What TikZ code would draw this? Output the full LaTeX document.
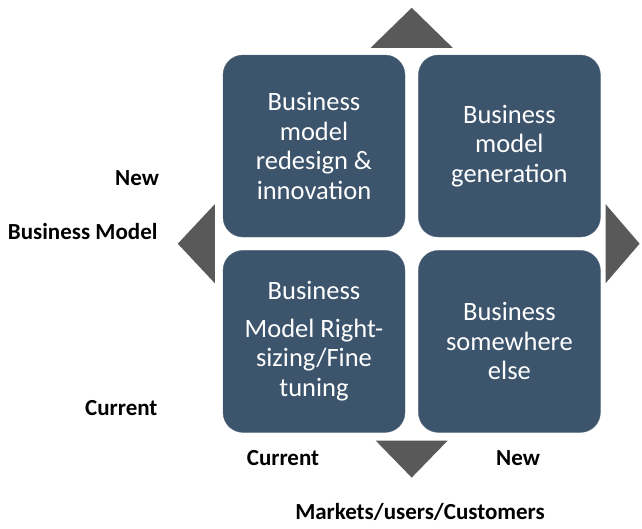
\documentclass[tikz,border=0pt]{standalone}
\usepackage{fontspec}
\setmainfont{Carlito}
\usetikzlibrary{positioning}
\usetikzlibrary{calc}
\definecolor{boxblue}{RGB}{60,84,108}
\definecolor{pointergray}{RGB}{89,89,89}

\begin{document}
\begin{tikzpicture}[x=1pt,y=-1pt,
    quad/.style={draw=boxblue!85!white, fill=boxblue, rounded corners=20pt,
        minimum width=182pt, minimum height=182pt, inner sep=0pt,
        text=white, align=center, font=\fontsize{26.5}{29.5}\selectfont},
    axis label/.style={font=\fontsize{23}{27}\selectfont\bfseries},
    pointer/.style={fill=pointergray}]
    \useasboundingbox (0,0) rectangle (642,528);
    % the four quadrants
    \node [quad] (redesign) at (314,146) {Business\\model\\redesign \&\\innovation};
    \node [quad, right=13pt of redesign] (generation) {Business\\model\\generation};
    \node [quad, below=13pt of redesign] (finetune) {Business\\[8pt]Model Right-\\sizing/Fine\\tuning};
    \node [quad, below=13pt of generation] (elsewhere) {Business\\somewhere\\else};
    \coordinate (middle) at ($(redesign.south east)!0.5!(elsewhere.north west)$);
    % pointers
    \fill [pointer] ($(middle |- redesign.north)+(-41,-7)$) -- ++(82,0)
        -- ($(middle |- redesign.north)+(0,-47)$) -- cycle;
    \fill [pointer] ($(middle |- finetune.south)+(-36,8)$) -- ++(72,0)
        -- ($(middle |- finetune.south)+(0,45)$) -- cycle;
    \fill [pointer] ($(middle -| redesign.west)+(-8,-39.5)$) -- ++(0,79)
        -- ($(middle -| redesign.west)+(-45,0)$) -- cycle;
    \fill [pointer] ($(middle -| generation.east)+(5,-39.5)$) -- ++(0,79)
        -- ($(middle -| generation.east)+(39,0)$) -- cycle;
    % axis labels
    \node [axis label] (modelnew) at (137,178) {New};
    \node [axis label, anchor=east] (modelname) at (161,232) {Business Model};
    \node [axis label, anchor=east] (modelcurrent) at (161,408) {Current};
    \node [axis label] (marketcurrent) at (283,458) {Current};
    \node [axis label] (marketnew) at (518,458) {New};
    \node [axis label] (marketname) at (420,512) {Markets/users/Customers};
\end{tikzpicture}
\end{document}
